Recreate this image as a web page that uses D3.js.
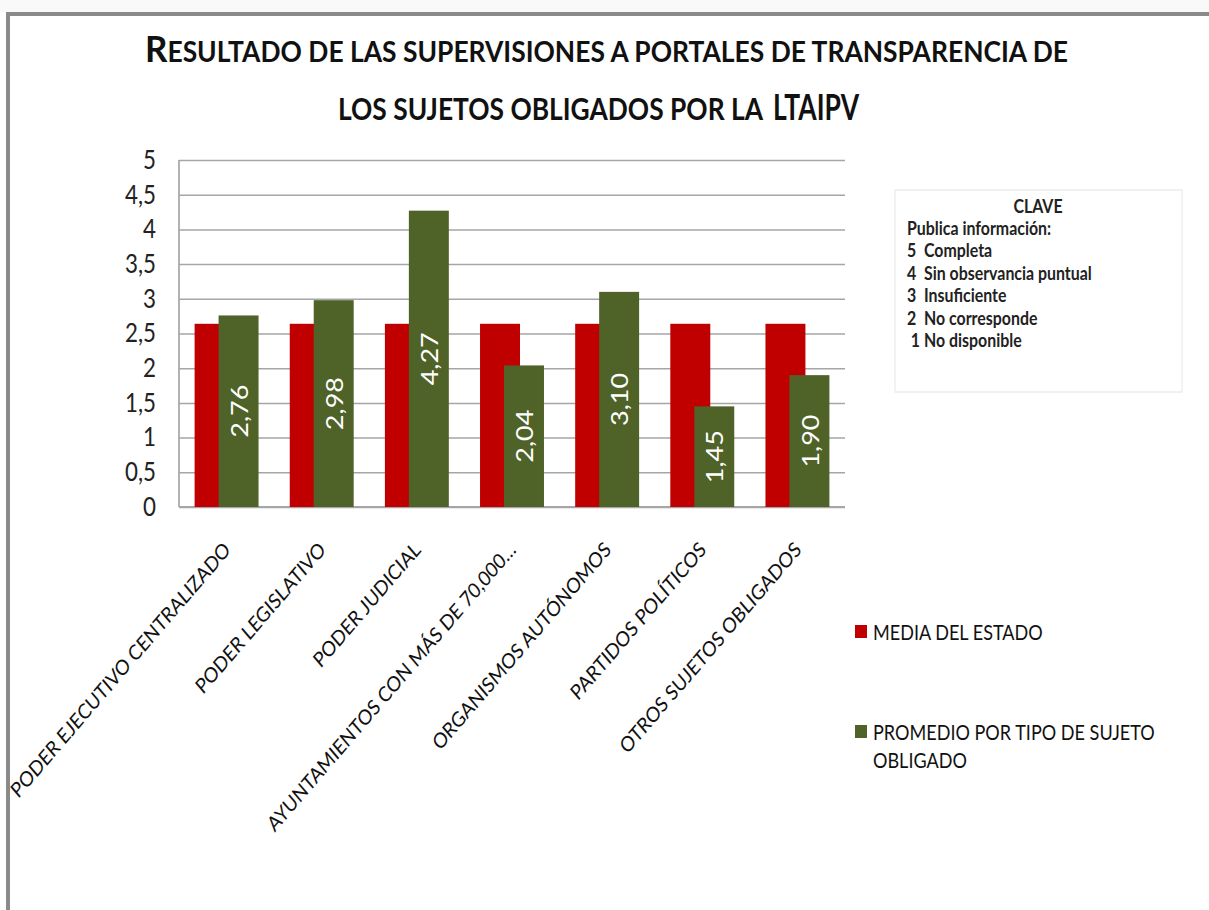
<!DOCTYPE html>
<html>
<head>
<meta charset="utf-8">
<script src="https://cdn.jsdelivr.net/npm/d3@7"></script>
<style>
  body { margin: 0; background: #fff; }
  svg { display: block; font-family: Lato, "Open Sans", sans-serif; }
</style>
</head>
<body>
<svg id="chart" width="1209" height="910"></svg>
<script>
// Data
const categories = [
    "PODER EJECUTIVO CENTRALIZADO",
    "PODER LEGISLATIVO",
    "PODER JUDICIAL",
    "AYUNTAMIENTOS CON MÁS DE 70,000…",
    "ORGANISMOS AUTÓNOMOS",
    "PARTIDOS POLÍTICOS",
    "OTROS SUJETOS OBLIGADOS"
];
const mediaEstado = [2.64, 2.64, 2.64, 2.64, 2.64, 2.64, 2.64];
const promedioTipo = [2.76, 2.98, 4.27, 2.04, 3.10, 1.45, 1.90];
const yTicks = [0, 0.5, 1, 1.5, 2, 2.5, 3, 3.5, 4, 4.5, 5];
const seriesNames = ["MEDIA DEL ESTADO", "PROMEDIO POR TIPO DE SUJETO OBLIGADO"];
const seriesColors = ["#c00000", "#4f6228"];
const claveTitle = "CLAVE";
const claveLines = [
    "Publica información:",
    "5  Completa",
    "4  Sin observancia puntual",
    "3  Insuficiente",
    "2  No corresponde",
    " 1 No disponible"
];

// The source picture is squeezed horizontally, so everything is drawn in a
// wider space and then compressed on x.
const sx = 0.86;
const U = px => px / sx;

const locale = d3.formatLocale({decimal: ",", thousands: ".", grouping: [3], currency: ["", "€"]});
const tickFmt = locale.format(".1~f");
const valFmt = locale.format(".2f");

const svg = d3.select("#chart");

// page frame
svg.append("rect").attr("x", 0).attr("y", 0).attr("width", 1209).attr("height", 12).attr("fill", "#f9f9f9");
svg.append("rect").attr("x", 6).attr("y", 12).attr("width", 1203).attr("height", 4).attr("fill", "#8a8a8a");
svg.append("rect").attr("x", 6).attr("y", 12).attr("width", 4).attr("height", 898).attr("fill", "#8a8a8a");

const root = svg.append("g").attr("transform", `scale(${sx},1)`);

// Title
const t1 = root.append("text")
    .attr("x", U(145)).attr("y", 62)
    .attr("font-weight", "bold").attr("fill", "#111")
    .attr("textLength", U(923)).attr("lengthAdjust", "spacingAndGlyphs");
t1.append("tspan").attr("font-size", 37).text("R");
t1.append("tspan").attr("font-size", 28).text("ESULTADO DE LAS SUPERVISIONES A PORTALES DE TRANSPARENCIA  DE");

root.append("text")
    .attr("x", U(338)).attr("y", 120)
    .attr("font-weight", "bold").attr("fill", "#111")
    .attr("font-size", 31)
    .attr("textLength", U(425)).attr("lengthAdjust", "spacingAndGlyphs")
    .text("LOS SUJETOS OBLIGADOS POR LA");
root.append("text")
    .attr("x", U(773)).attr("y", 120)
    .attr("font-weight", "bold").attr("fill", "#111")
    .attr("font-size", 37)
    .attr("textLength", U(86)).attr("lengthAdjust", "spacingAndGlyphs")
    .text("LTAIPV");

// Scales
const x = d3.scaleBand()
    .domain(categories)
    .range([U(179), U(845)])
    .paddingInner(0);

const y = d3.scaleLinear()
    .domain([0, 5])
    .range([507, 160]);

const bw = x.bandwidth();
const barW = bw * 0.42;
const shift = barW * 0.6;
const offset = (bw - barW - shift) / 2;

// Gridlines
root.append("g")
    .attr("transform", `translate(${U(179)},0)`)
    .call(d3.axisLeft(y).tickValues(yTicks).tickSize(-(U(845) - U(179))).tickFormat(""))
    .call(g => g.select(".domain").remove())
    .call(g => g.selectAll("line").attr("stroke", "#a6a6a6").attr("stroke-width", 1.5));

// Y axis labels
root.append("g")
    .attr("transform", `translate(${U(179)},0)`)
    .call(d3.axisLeft(y).tickValues(yTicks).tickSize(0).tickPadding(U(23)).tickFormat(tickFmt))
    .call(g => g.select(".domain").remove())
    .call(g => g.selectAll("text").attr("font-size", 26).attr("fill", "#222").attr("font-family", "Lato, sans-serif"));

// Axis lines
root.append("line")
    .attr("x1", U(179)).attr("x2", U(179)).attr("y1", y(5)).attr("y2", y(0))
    .attr("stroke", "#a6a6a6").attr("stroke-width", 2);
root.append("line")
    .attr("x1", U(179)).attr("x2", U(845)).attr("y1", y(0)).attr("y2", y(0))
    .attr("stroke", "#a6a6a6").attr("stroke-width", 2);

// Bars
root.selectAll(".bar-media")
    .data(categories)
    .enter().append("rect")
    .attr("class", "bar-media")
    .attr("x", d => x(d) + offset)
    .attr("y", (d, i) => y(mediaEstado[i]))
    .attr("width", barW)
    .attr("height", (d, i) => y(0) - y(mediaEstado[i]))
    .attr("fill", seriesColors[0]);

root.selectAll(".bar-prom")
    .data(categories)
    .enter().append("rect")
    .attr("class", "bar-prom")
    .attr("x", d => x(d) + offset + shift)
    .attr("y", (d, i) => y(promedioTipo[i]))
    .attr("width", barW)
    .attr("height", (d, i) => y(0) - y(promedioTipo[i]))
    .attr("fill", seriesColors[1]);

// Value labels inside the green bars
root.selectAll(".val")
    .data(categories)
    .enter().append("text")
    .attr("class", "val")
    .attr("transform", (d, i) => `translate(${x(d) + offset + shift + barW / 2},${(y(0) + y(promedioTipo[i])) / 2}) rotate(-90)`)
    .attr("text-anchor", "middle")
    .attr("dominant-baseline", "central")
    .attr("font-size", 27)
    .attr("fill", "#fff")
    .text((d, i) => valFmt(promedioTipo[i]));

// Category labels
root.selectAll(".cat")
    .data(categories)
    .enter().append("text")
    .attr("class", "cat")
    .attr("transform", d => `translate(${x(d) + bw / 2 + U(5)},551) rotate(-45)`)
    .attr("text-anchor", "end")
    .attr("font-size", 21)
    .attr("fill", "#111")
    .text(d => d);

// Key box
root.append("rect")
    .attr("x", U(895)).attr("y", 190)
    .attr("width", U(1182) - U(895)).attr("height", 202)
    .attr("fill", "#fff").attr("stroke", "#ececec").attr("stroke-width", 1.5);
root.append("text")
    .attr("x", U(1038)).attr("y", 213)
    .attr("text-anchor", "middle")
    .attr("font-size", 18.5).attr("font-weight", "bold").attr("fill", "#222")
    .text(claveTitle);
root.selectAll(".clave")
    .data(claveLines)
    .enter().append("text")
    .attr("class", "clave")
    .attr("x", U(907))
    .attr("y", (d, i) => 235 + i * 22.4)
    .attr("font-size", 18.5).attr("font-weight", "bold").attr("fill", "#222")
    .attr("xml:space", "preserve")
    .style("white-space", "pre")
    .text(d => d);

// Legend
const legend = root.append("g");
const legendY = [625, 725];
legend.selectAll("rect")
    .data(seriesNames)
    .enter().append("rect")
    .attr("x", U(855)).attr("y", (d, i) => legendY[i])
    .attr("width", U(12)).attr("height", 13)
    .attr("fill", (d, i) => seriesColors[i]);

legend.append("text")
    .attr("x", U(873)).attr("y", 640)
    .attr("font-size", 21).attr("fill", "#111")
    .text(seriesNames[0]);
const lt = legend.append("text")
    .attr("x", U(873)).attr("y", 740)
    .attr("font-size", 21).attr("fill", "#111");
lt.append("tspan").attr("x", U(873)).text("PROMEDIO POR TIPO DE SUJETO");
lt.append("tspan").attr("x", U(873)).attr("dy", 28).text("OBLIGADO");
</script>
</body>
</html>
